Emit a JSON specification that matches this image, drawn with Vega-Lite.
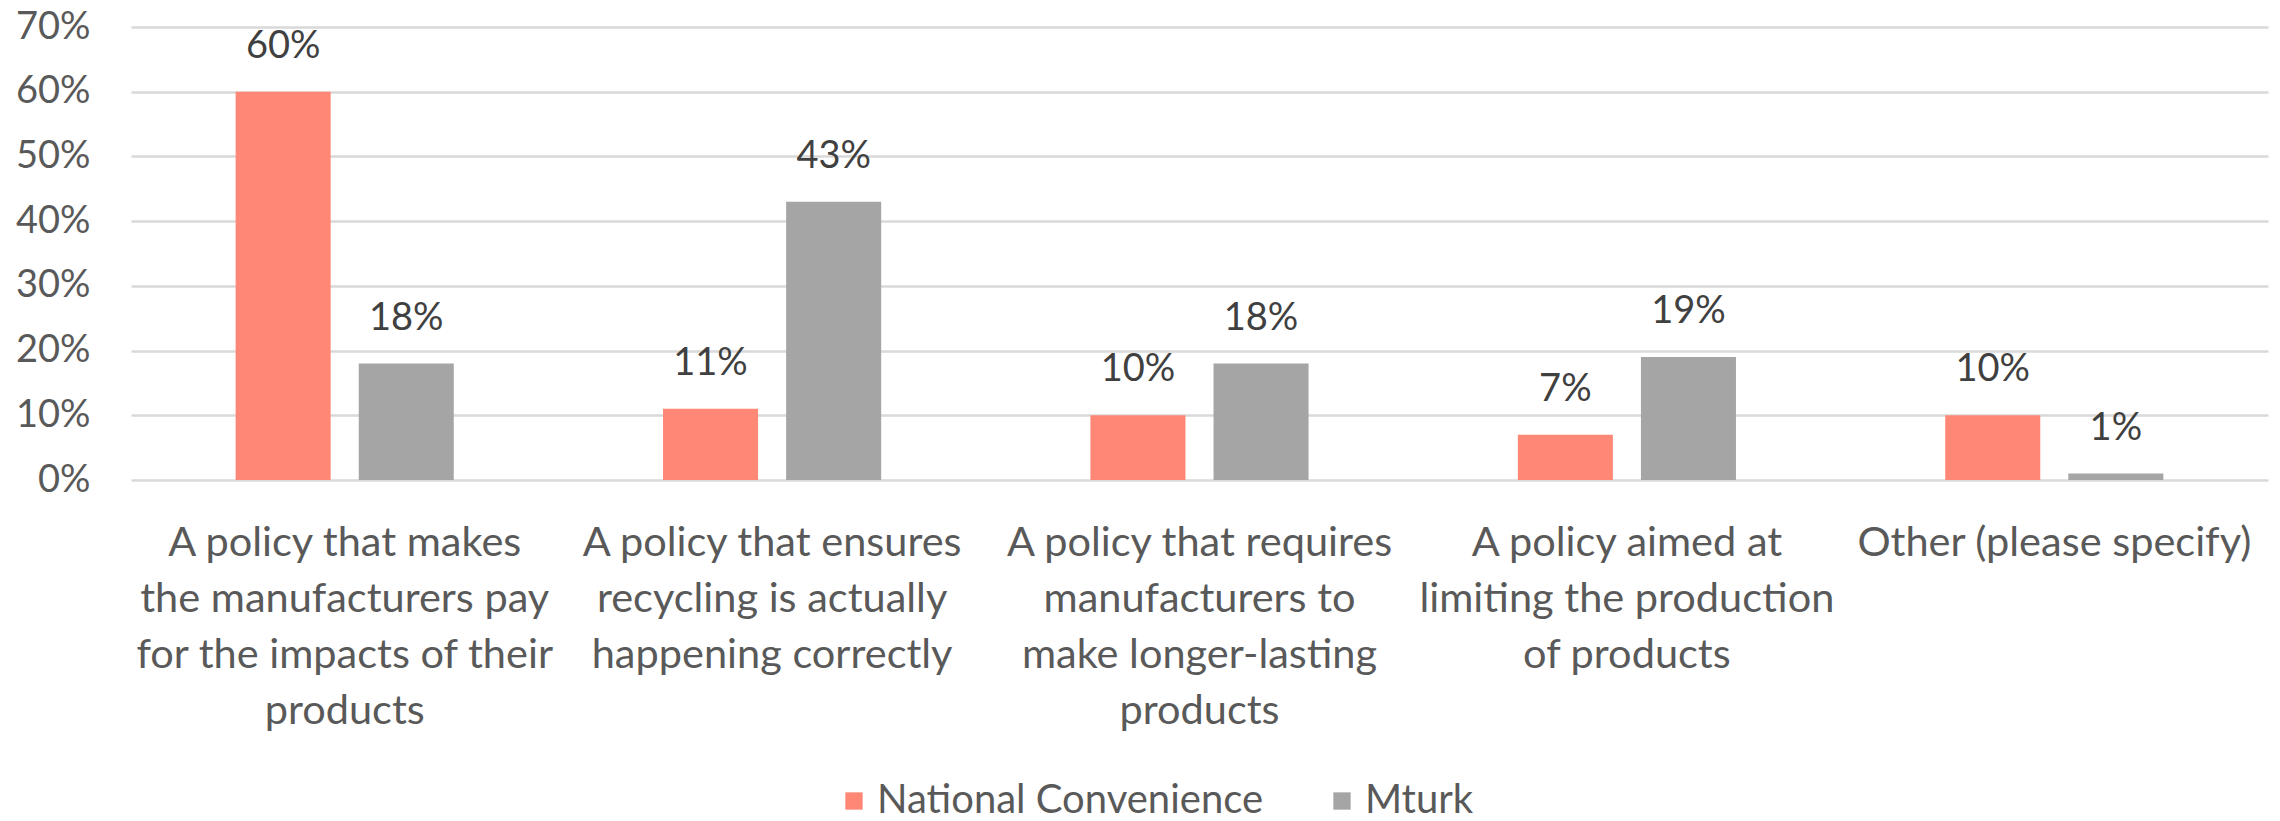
{
  "$schema": "https://vega.github.io/schema/vega-lite/v6.json",
  "width": 2137,
  "height": 453,
  "autosize": {"type": "none"},
  "padding": {"left": 131, "top": 27, "right": 12, "bottom": 341},
  "background": "white",
  "config": {"view": {"stroke": null}, "font": "Lato"},
  "data": {
    "values": [
      {"policy": "A policy that makes\nthe manufacturers pay\nfor the impacts of their\nproducts", "sample": "National Convenience", "share": 0.60},
      {"policy": "A policy that makes\nthe manufacturers pay\nfor the impacts of their\nproducts", "sample": "Mturk", "share": 0.18},
      {"policy": "A policy that ensures\nrecycling is actually\nhappening correctly", "sample": "National Convenience", "share": 0.11},
      {"policy": "A policy that ensures\nrecycling is actually\nhappening correctly", "sample": "Mturk", "share": 0.43},
      {"policy": "A policy that requires\nmanufacturers to\nmake longer-lasting\nproducts", "sample": "National Convenience", "share": 0.10},
      {"policy": "A policy that requires\nmanufacturers to\nmake longer-lasting\nproducts", "sample": "Mturk", "share": 0.18},
      {"policy": "A policy aimed at\nlimiting the production\nof products", "sample": "National Convenience", "share": 0.07},
      {"policy": "A policy aimed at\nlimiting the production\nof products", "sample": "Mturk", "share": 0.19},
      {"policy": "Other (please specify)", "sample": "National Convenience", "share": 0.10},
      {"policy": "Other (please specify)", "sample": "Mturk", "share": 0.01}
    ]
  },
  "encoding": {
    "x": {
      "field": "policy",
      "type": "nominal",
      "sort": null,
      "scale": {"paddingInner": 0, "paddingOuter": 0},
      "axis": {
        "title": null,
        "labelAngle": 0,
        "labelFontSize": 41.5,
        "labelColor": "#595959",
        "labelLineHeight": 56,
        "labelBaseline": "top",
        "labelPadding": 42,
        "labelLimit": 0,
        "labelExpr": "split(datum.label, '\\n')",
        "domain": false,
        "ticks": false,
        "grid": false
      }
    },
    "xOffset": {
      "field": "sample",
      "type": "nominal",
      "sort": ["National Convenience", "Mturk"],
      "scale": {"paddingInner": 0.228, "paddingOuter": 0.85}
    },
    "y": {
      "field": "share",
      "type": "quantitative",
      "scale": {"domain": [0, 0.7], "nice": false},
      "axis": {
        "title": null,
        "values": [0, 0.1, 0.2, 0.3, 0.4, 0.5, 0.6, 0.7],
        "format": ".0%",
        "labelFontSize": 38,
        "labelColor": "#595959",
        "labelPadding": 41,
        "domain": false,
        "ticks": false,
        "gridColor": "#d9d9d9",
        "gridWidth": 2.5
      }
    }
  },
  "layer": [
    {
      "mark": {"type": "bar"},
      "encoding": {
        "color": {
          "field": "sample",
          "type": "nominal",
          "sort": ["National Convenience", "Mturk"],
          "scale": {"domain": ["National Convenience", "Mturk"], "range": ["#FF8776", "#A5A5A5"]},
          "legend": {
            "title": null,
            "orient": "none",
            "legendX": 703,
            "legendY": 754,
            "direction": "horizontal",
            "symbolType": "square",
            "symbolSize": 300,
            "symbolStrokeWidth": 0,
            "labelFontSize": 40,
            "labelColor": "#595959",
            "labelOffset": 3,
            "labelLimit": 0,
            "columnPadding": 58
          }
        }
      }
    },
    {
      "mark": {"type": "text", "baseline": "alphabetic", "dy": -34, "fontSize": 38, "color": "#404040"},
      "encoding": {
        "text": {"field": "share", "type": "quantitative", "format": ".0%"}
      }
    }
  ]
}
